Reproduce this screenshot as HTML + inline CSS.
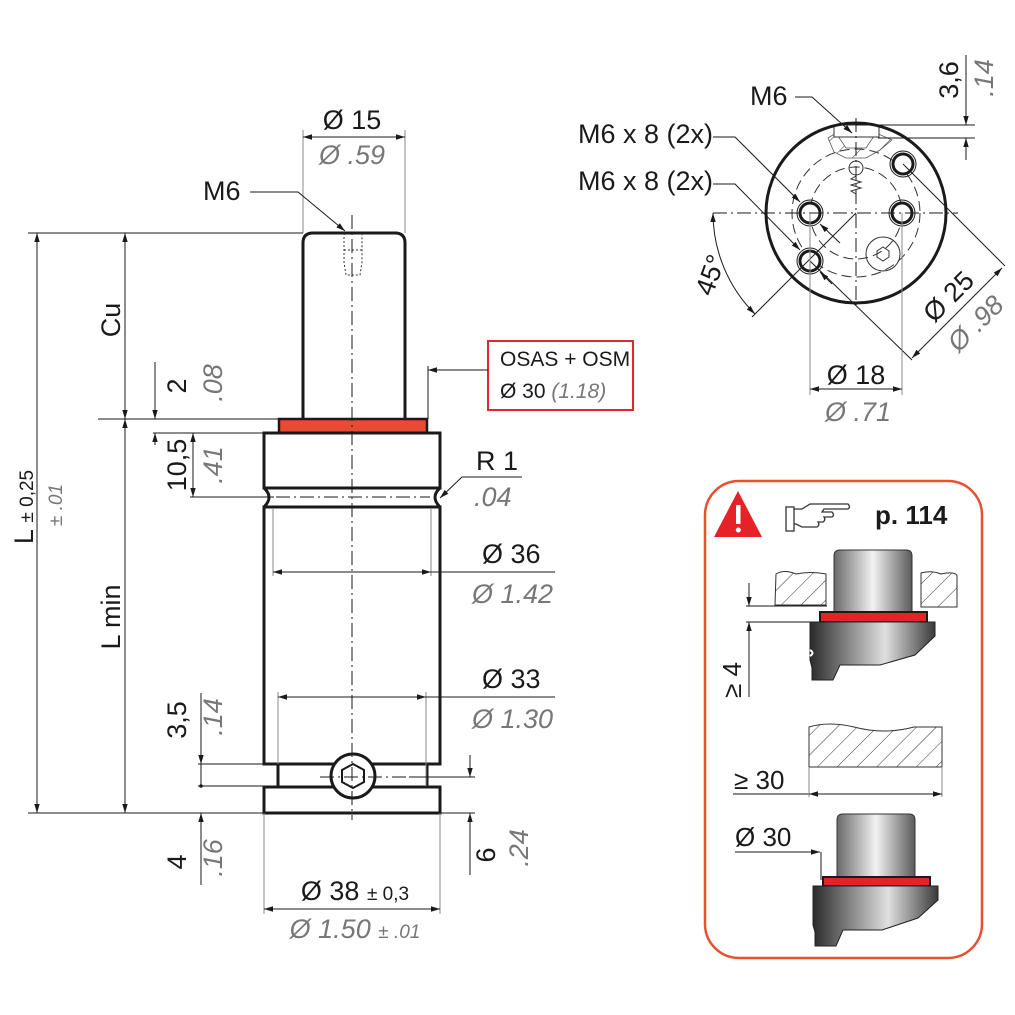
<!DOCTYPE html>
<html><head><meta charset="utf-8"><style>
html,body{margin:0;padding:0;background:#fff;}
svg{display:block;}
.t{font-family:"Liberation Sans Narrow","Liberation Sans",sans-serif;fill:#1a1a1a;}
.g{font-family:"Liberation Sans Narrow","Liberation Sans",sans-serif;fill:#777;font-style:italic;}
.k{stroke:#1a1a1a;fill:none;}
.th{stroke:#1a1a1a;stroke-width:1;fill:none;}
.gy{stroke:#888;stroke-width:1;fill:none;}
.cl{stroke:#1a1a1a;stroke-width:1;fill:none;stroke-dasharray:14 4 2 4;}
</style></head><body>
<svg width="1015" height="1015" viewBox="0 0 1015 1015" xmlns="http://www.w3.org/2000/svg">
<defs>
<marker id="a" viewBox="0 0 10 10" refX="10" refY="5" markerWidth="9" markerHeight="9" orient="auto-start-reverse" markerUnits="userSpaceOnUse"><path d="M0,2 L10,5 L0,8z" fill="#1a1a1a"/></marker>
<linearGradient id="cap" x1="0" x2="1"><stop offset="0" stop-color="#6a6a6a"/><stop offset="0.5" stop-color="#f2f2f2"/><stop offset="1" stop-color="#5a5a5a"/></linearGradient>
<linearGradient id="dk" x1="0" x2="1"><stop offset="0" stop-color="#2a2a2a"/><stop offset="0.6" stop-color="#e0e0e0"/><stop offset="1" stop-color="#3a3a3a"/></linearGradient>
<pattern id="h" width="14" height="14" patternUnits="userSpaceOnUse" patternTransform="rotate(45)"><line x1="0" y1="0" x2="0" y2="14" stroke="#333" stroke-width="1"/></pattern>
</defs>

<!-- ===== MAIN SIDE VIEW ===== -->
<!-- rod -->
<path d="M303,419 V243 Q303,233 313,233 H395 Q405,233 405,243 V419" class="k" stroke-width="3"/>
<path d="M344,233 V262 L346,275 H360 L362,262 V233 M344,250 H362" stroke="#333" stroke-width="1" stroke-dasharray="2 2" fill="none"/>
<!-- red ring -->
<rect x="279" y="419" width="148" height="14" fill="#e84a33" stroke="#1a1a1a" stroke-width="2.5"/>
<!-- top flange -->
<rect x="264" y="433" width="176" height="55" fill="#fff" stroke="#1a1a1a" stroke-width="3"/>
<!-- groove -->
<path d="M264,488 Q274,497 264,507 M440,488 Q430,497 440,507" class="k" stroke-width="3"/>
<!-- body -->
<rect x="264" y="507" width="176" height="257" fill="none" stroke="#1a1a1a" stroke-width="3"/>
<!-- neck -->
<path d="M278,764 V787 M427,764 V787" class="k" stroke-width="3"/>
<!-- base -->
<rect x="264" y="787" width="176" height="26" fill="none" stroke="#1a1a1a" stroke-width="3"/>
<!-- screw -->
<circle cx="353" cy="776" r="22" fill="#fff" stroke="#1a1a1a" stroke-width="3"/>
<polygon points="353,764 364,770 364,782 353,788 342,782 342,770" fill="none" stroke="#1a1a1a" stroke-width="2"/>
<!-- center lines -->
<line x1="352" y1="215" x2="352" y2="820" class="cl"/>
<line x1="276" y1="497" x2="430" y2="497" class="cl"/>
<line x1="320" y1="777" x2="420" y2="777" class="cl"/>

<!-- Ø15 -->
<line x1="303" y1="130" x2="303" y2="233" class="gy"/>
<line x1="405" y1="130" x2="405" y2="233" class="gy"/>
<line x1="303" y1="137" x2="405" y2="137" class="th" marker-start="url(#a)" marker-end="url(#a)"/>
<text x="352" y="129" class="t" font-size="27" text-anchor="middle">Ø 15</text>
<text x="352" y="164" class="g" font-size="27" text-anchor="middle">Ø .59</text>
<!-- M6 -->
<text x="203" y="200" class="t" font-size="27">M6</text>
<polyline points="250,192 298,192 345,231" class="th" marker-end="url(#a)"/>
<!-- L lines -->
<line x1="28" y1="233" x2="303" y2="233" class="th"/>
<line x1="28" y1="813" x2="475" y2="813" class="th"/>
<line x1="37" y1="233" x2="37" y2="813" class="th" marker-start="url(#a)" marker-end="url(#a)"/>
<text transform="translate(33,507) rotate(-90)" class="t" font-size="27" text-anchor="middle">L <tspan font-size="19">± 0,25</tspan></text>
<text transform="translate(62,505) rotate(-90)" class="g" font-size="19" text-anchor="middle">± .01</text>
<!-- Cu -->
<line x1="125" y1="233" x2="125" y2="419" class="th" marker-start="url(#a)" marker-end="url(#a)"/>
<text transform="translate(120,320) rotate(-90)" class="t" font-size="27" text-anchor="middle">Cu</text>
<line x1="98" y1="419" x2="279" y2="419" class="th"/>
<line x1="125" y1="419" x2="125" y2="813" class="th" marker-start="url(#a)" marker-end="url(#a)"/>
<text transform="translate(120,617) rotate(-90)" class="t" font-size="27" text-anchor="middle">L min</text>
<!-- 2 / .08 -->
<line x1="155" y1="362" x2="155" y2="419" class="th" marker-end="url(#a)"/>
<line x1="155" y1="433" x2="155" y2="445" class="th" marker-start="url(#a)"/>
<text transform="translate(186,386) rotate(-90)" class="t" font-size="27" text-anchor="middle">2</text>
<text transform="translate(222,383) rotate(-90)" class="g" font-size="27" text-anchor="middle">.08</text>
<!-- 10,5 -->
<line x1="153" y1="433" x2="264" y2="433" class="th"/>
<line x1="190" y1="497" x2="274" y2="497" class="th"/>
<line x1="193" y1="433" x2="193" y2="497" class="th" marker-start="url(#a)" marker-end="url(#a)"/>
<text transform="translate(186,465) rotate(-90)" class="t" font-size="27" text-anchor="middle">10,5</text>
<text transform="translate(222,465) rotate(-90)" class="g" font-size="27" text-anchor="middle">.41</text>
<!-- R1 -->
<text x="476" y="470" class="t" font-size="27">R 1</text>
<polyline points="522,477 462,477 440,498" class="th" marker-end="url(#a)"/>
<text x="474" y="506" class="g" font-size="27">.04</text>
<!-- Ø36 -->
<line x1="273" y1="508" x2="273" y2="576" class="gy"/>
<line x1="431" y1="508" x2="431" y2="576" class="gy"/>
<line x1="273" y1="572" x2="431" y2="572" class="th" marker-start="url(#a)" marker-end="url(#a)"/>
<line x1="431" y1="572" x2="555" y2="572" class="th"/>
<text x="482" y="563" class="t" font-size="27">Ø 36</text>
<text x="472" y="603" class="g" font-size="27">Ø 1.42</text>
<!-- Ø33 -->
<line x1="278" y1="692" x2="278" y2="764" class="gy"/>
<line x1="426" y1="692" x2="426" y2="786" class="gy"/>
<line x1="278" y1="697" x2="426" y2="697" class="th" marker-start="url(#a)" marker-end="url(#a)"/>
<line x1="426" y1="697" x2="555" y2="697" class="th"/>
<text x="482" y="688" class="t" font-size="27">Ø 33</text>
<text x="472" y="728" class="g" font-size="27">Ø 1.30</text>
<!-- 3,5 / 4 -->
<line x1="198" y1="764" x2="264" y2="764" class="th"/>
<line x1="198" y1="786" x2="264" y2="786" class="th"/>
<line x1="201" y1="693" x2="201" y2="764" class="th" marker-end="url(#a)"/>
<line x1="201" y1="764" x2="201" y2="786" class="th"/>
<circle cx="201" cy="786" r="1.8" fill="#1a1a1a"/>
<line x1="201" y1="885" x2="201" y2="813" class="th" marker-end="url(#a)"/>
<text transform="translate(186,720) rotate(-90)" class="t" font-size="27" text-anchor="middle">3,5</text>
<text transform="translate(222,717) rotate(-90)" class="g" font-size="27" text-anchor="middle">.14</text>
<text transform="translate(186,862) rotate(-90)" class="t" font-size="27" text-anchor="middle">4</text>
<text transform="translate(222,858) rotate(-90)" class="g" font-size="27" text-anchor="middle">.16</text>
<!-- 6 / .24 -->
<line x1="409" y1="777" x2="475" y2="777" class="th"/>
<line x1="470" y1="755" x2="470" y2="777" class="th" marker-end="url(#a)"/>
<line x1="470" y1="875" x2="470" y2="813" class="th" marker-end="url(#a)"/>
<text transform="translate(495,855) rotate(-90)" class="t" font-size="27" text-anchor="middle">6</text>
<text transform="translate(528,848) rotate(-90)" class="g" font-size="27" text-anchor="middle">.24</text>
<!-- Ø38 -->
<line x1="264" y1="813" x2="264" y2="914" class="gy"/>
<line x1="440" y1="813" x2="440" y2="914" class="gy"/>
<line x1="264" y1="909" x2="440" y2="909" class="th" marker-start="url(#a)" marker-end="url(#a)"/>
<text x="355" y="900" class="t" font-size="27" text-anchor="middle">Ø 38 <tspan font-size="19">± 0,3</tspan></text>
<text x="355" y="938" class="g" font-size="27" text-anchor="middle">Ø 1.50 <tspan font-size="19">± .01</tspan></text>
<!-- OSAS box -->
<rect x="488" y="341" width="145" height="69" fill="none" stroke="#e3262d" stroke-width="2"/>
<text x="500" y="366" class="t" font-size="21">OSAS + OSM</text>
<text x="500" y="398" class="t" font-size="21">Ø 30 <tspan class="g" font-size="21">(1.18)</tspan></text>
<line x1="488" y1="370" x2="428" y2="370" class="th" marker-end="url(#a)"/>
<line x1="428" y1="366" x2="428" y2="419" class="th"/>

<!-- ===== END VIEW ===== -->
<circle cx="856" cy="213" r="64" fill="none" stroke="#333" stroke-width="1" stroke-dasharray="10 5"/>
<circle cx="856" cy="213" r="46" fill="none" stroke="#333" stroke-width="1" stroke-dasharray="10 5"/>
<path d="M828,138 L836,133 L846,148 L866,148 L876,133 L892,140 L880,150 L866,158 L846,158 L834,152z" fill="url(#h)" stroke="#555" stroke-width="0.8"/>
<rect x="834" y="125" width="45" height="12" fill="#fff" stroke="#333" stroke-width="1"/>
<circle cx="856" cy="168" r="7" fill="none" stroke="#333" stroke-width="1"/>
<polyline points="856,176 851,179 861,182 851,185 861,188 851,191 856,194" fill="none" stroke="#333" stroke-width="1"/>
<circle cx="883" cy="254" r="17" fill="none" stroke="#333" stroke-width="1"/>
<polygon points="883,247 889,251 889,257 883,261 877,257 877,251" fill="none" stroke="#333" stroke-width="1"/>
<circle cx="856" cy="213" r="90" fill="none" stroke="#1a1a1a" stroke-width="3"/>
<g fill="#fff" stroke="#1a1a1a" stroke-width="3">
<circle cx="810" cy="213" r="10"/><circle cx="902" cy="213" r="10"/>
<circle cx="810" cy="261" r="10"/><circle cx="903" cy="164" r="10"/>
</g>
<g fill="none" stroke="#1a1a1a" stroke-width="1">
<circle cx="810" cy="213" r="13"/><circle cx="902" cy="213" r="13"/>
<circle cx="810" cy="261" r="13"/><circle cx="903" cy="164" r="13"/>
</g>
<line x1="713" y1="213" x2="958" y2="213" class="cl"/>
<line x1="856" y1="118" x2="856" y2="310" class="cl"/>
<!-- M6 top -->
<text x="750" y="105" class="t" font-size="27">M6</text>
<polyline points="795,97 812,97 852,133" class="th" marker-end="url(#a)"/>
<!-- 3,6 -->
<line x1="856" y1="125" x2="975" y2="125" class="th"/>
<line x1="878" y1="138" x2="975" y2="138" class="th"/>
<line x1="966" y1="55" x2="966" y2="125" class="th" marker-end="url(#a)"/>
<line x1="966" y1="160" x2="966" y2="138" class="th" marker-end="url(#a)"/>
<text transform="translate(958,80) rotate(-90)" class="t" font-size="27" text-anchor="middle">3,6</text>
<text transform="translate(993,78) rotate(-90)" class="g" font-size="27" text-anchor="middle">.14</text>
<!-- M6x8 -->
<text x="578" y="143" class="t" font-size="27">M6 x 8 (2x)</text>
<text x="578" y="190" class="t" font-size="27">M6 x 8 (2x)</text>
<polyline points="713,137 735,137 800,202" class="th" marker-end="url(#a)"/>
<line x1="820" y1="224" x2="840" y2="243" class="th" marker-start="url(#a)"/>
<polyline points="713,184 735,184 800,250" class="th" marker-end="url(#a)"/>
<line x1="820" y1="272" x2="832" y2="284" class="th" marker-start="url(#a)"/>
<!-- 45 -->
<path d="M713,213 A143,143 0 0 0 755,314" class="th" marker-start="url(#a)" marker-end="url(#a)"/>
<line x1="856" y1="213" x2="752" y2="317" class="th"/>
<text transform="translate(719,278) rotate(-70)" class="t" font-size="27" text-anchor="middle">45°</text>
<!-- Ø25 -->
<line x1="903" y1="164" x2="1005" y2="266" class="th"/>
<line x1="810" y1="261" x2="912" y2="360" class="th"/>
<line x1="1002" y1="268" x2="912" y2="358" class="th" marker-start="url(#a)" marker-end="url(#a)"/>
<text transform="translate(955,303) rotate(-45)" class="t" font-size="27" text-anchor="middle">Ø 25</text>
<text transform="translate(982,330) rotate(-45)" class="g" font-size="27" text-anchor="middle">Ø .98</text>
<!-- Ø18 -->
<line x1="810" y1="213" x2="810" y2="395" class="gy"/>
<line x1="902" y1="213" x2="902" y2="395" class="gy"/>
<line x1="810" y1="389" x2="902" y2="389" class="th" marker-start="url(#a)" marker-end="url(#a)"/>
<text x="856" y="384" class="t" font-size="27" text-anchor="middle">Ø 18</text>
<text x="858" y="421" class="g" font-size="27" text-anchor="middle">Ø .71</text>

<!-- ===== WARNING BOX ===== -->
<rect x="705" y="481" width="277" height="477" rx="34" fill="none" stroke="#e8502f" stroke-width="2.5"/>
<polygon points="714,537 762,537 738,491" fill="#e52228"/>
<rect x="736" y="505" width="4.5" height="19" fill="#fff"/><circle cx="738.3" cy="530" r="2.5" fill="#fff"/>
<g fill="#fff" stroke="#333" stroke-width="1.3">
<path d="M788,509 h14 l8,-5 h38 q3,3 0,5 h-24 l-2,3 h10 q3,3 0,5 h-8 q2,3 -1,5 h-5 q2,3 -1,5 h-15 l-6,-3 h-8z"/>
<rect x="786" y="507" width="8" height="24"/>
</g>
<text x="875" y="524" class="t" font-size="26" font-weight="bold">p. 114</text>
<!-- top assembly -->
<path d="M776,574 q8,-5 20,0 q15,-3 30,0 v31 h-51z" fill="url(#h)" stroke="#333" stroke-width="1"/>
<path d="M921,573 q10,-3 20,1 q15,-3 16,2 v31 h-36z" fill="url(#h)" stroke="#333" stroke-width="1"/>
<path d="M834,612 V556 q0,-6 6,-6 h66 q6,0 6,6 V612z" fill="url(#cap)" stroke="#333" stroke-width="1"/>
<rect x="820" y="612" width="107" height="10" fill="#e52228" stroke="#1a1a1a" stroke-width="2"/>
<path d="M810,622 H935 V636 L915,655 L880,665 L840,665 L833,680 H812 V668 L810,660z" fill="url(#dk)" stroke="#222" stroke-width="1"/>
<path d="M810,650 q5,3 0,6" stroke="#fff" stroke-width="2" fill="none"/>
<line x1="749" y1="583" x2="749" y2="606" class="th" marker-end="url(#a)"/>
<line x1="749" y1="697" x2="749" y2="622" class="th" marker-end="url(#a)"/>
<line x1="746" y1="606" x2="827" y2="606" class="th"/>
<line x1="746" y1="622" x2="810" y2="622" class="th"/>
<text transform="translate(741,680) rotate(-90)" class="t" font-size="26" text-anchor="middle">≥ 4</text>
<!-- middle plate -->
<path d="M809,767 V727 q20,-6 45,0 q30,8 60,0 h28 v40z" fill="url(#h)" stroke="#333" stroke-width="1"/>
<line x1="733" y1="794" x2="809" y2="794" class="th"/>
<line x1="809" y1="767" x2="809" y2="797" class="gy"/>
<line x1="942" y1="767" x2="942" y2="797" class="gy"/>
<line x1="809" y1="794" x2="942" y2="794" class="th" marker-start="url(#a)" marker-end="url(#a)"/>
<text x="734" y="789" class="t" font-size="26">≥ 30</text>
<!-- bottom assembly -->
<path d="M837,878 V820 q0,-6 6,-6 h66 q6,0 6,6 V878z" fill="url(#cap)" stroke="#333" stroke-width="1"/>
<rect x="823" y="877" width="107" height="9" fill="#e52228" stroke="#1a1a1a" stroke-width="2"/>
<path d="M813,886 H938 V900 L918,918 L882,930 L843,930 L836,946 H815 V932 L813,925z" fill="url(#dk)" stroke="#222" stroke-width="1"/>
<text x="735" y="846" class="t" font-size="26">Ø 30</text>
<line x1="735" y1="852" x2="820" y2="852" class="th" marker-end="url(#a)"/>
<line x1="821" y1="852" x2="821" y2="880" class="th"/>
</svg>
</body></html>
